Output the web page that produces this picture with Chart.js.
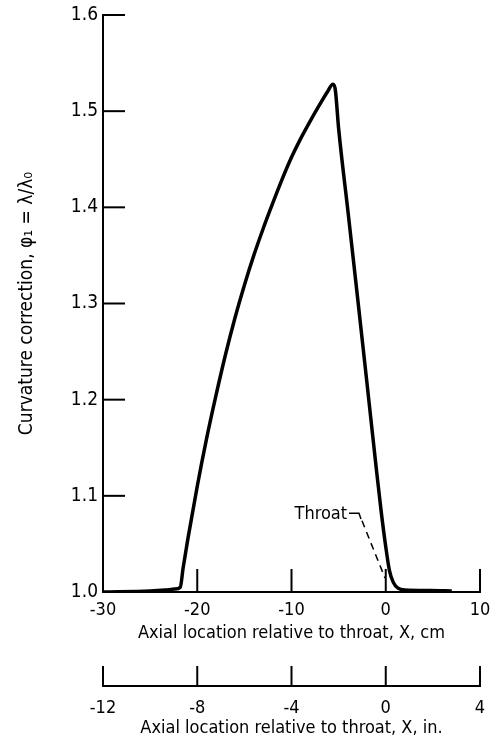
<!DOCTYPE html>
<html>
<head>
<meta charset="utf-8">
<script src="https://cdn.jsdelivr.net/npm/chart.js@4/dist/chart.umd.min.js"></script>
<style>
html, body { margin: 0; padding: 0; background: #fff; }
#wrap { width: 491px; height: 742px; }
</style>
</head>
<body>
<div id="wrap"><canvas id="grafico"></canvas></div>
<script>
// Dados
var posicaoCm = [-30, -25, -23.4, -22.4, -21.8, -21.5, -21.0, -20.0, -19.0, -18.0,
  -17.0, -16.0, -15.0, -14.0, -13.0, -12.0, -11.0, -10.0, -9.0, -8.0,
  -7.0, -6.2, -5.6, -5.35, -5.0, -4.0, -3.0, -2.0, -1.0, -0.5,
  0.0, 0.4, 0.8, 1.3, 2.0, 4.7, 7];
var correcao = [1.000, 1.001, 1.002, 1.003, 1.005, 1.025, 1.055, 1.110, 1.160, 1.205,
  1.247, 1.285, 1.319, 1.350, 1.378, 1.404, 1.429, 1.452, 1.472, 1.490,
  1.507, 1.520, 1.528, 1.522, 1.482, 1.395, 1.307, 1.218, 1.128, 1.085,
  1.047, 1.022, 1.010, 1.004, 1.002, 1.0015, 1.001];

var ticksY = [1.0, 1.1, 1.2, 1.3, 1.4, 1.5, 1.6];
var ticksCm = [-30, -20, -10, 0, 10];
var ticksPol = [-12, -8, -4, 0, 4];

var fonte = "'Liberation Sans Narrow', 'DejaVu Sans Condensed', sans-serif";

// marcas para dentro + nota "Throat"
var marcasInternas = {
  id: 'marcasInternas',
  afterDraw: function (chart) {
    var c = chart.ctx, area = chart.chartArea;
    var sx = chart.scales.x, sy = chart.scales.y, sp = chart.scales.xIn;
    c.save();
    c.strokeStyle = '#000';
    c.lineWidth = 2;
    ticksY.forEach(function (v) {
      var py = sy.getPixelForValue(v);
      c.beginPath(); c.moveTo(area.left, py); c.lineTo(area.left + 22, py); c.stroke();
    });
    ticksCm.forEach(function (v) {
      var px = sx.getPixelForValue(v);
      c.beginPath(); c.moveTo(px, sx.top); c.lineTo(px, sx.top - 23); c.stroke();
    });
    ticksPol.forEach(function (v) {
      var px = sp.getPixelForValue(v);
      c.beginPath(); c.moveTo(px, sp.top); c.lineTo(px, sp.top - 20); c.stroke();
    });

    // nota da garganta
    c.fillStyle = '#000';
    c.font = '18px ' + fonte;
    c.textAlign = 'right';
    c.textBaseline = 'middle';
    c.fillText('Throat', sx.getPixelForValue(-4.1), sy.getPixelForValue(1.081));
    c.lineWidth = 1.5;
    c.beginPath();
    c.moveTo(sx.getPixelForValue(-3.9), sy.getPixelForValue(1.082));
    c.lineTo(sx.getPixelForValue(-2.84), sy.getPixelForValue(1.082));
    c.lineTo(sx.getPixelForValue(-2.63), sy.getPixelForValue(1.076));
    c.stroke();
    c.setLineDash([7, 5]);
    c.beginPath();
    c.moveTo(sx.getPixelForValue(-2.52), sy.getPixelForValue(1.074));
    c.lineTo(sx.getPixelForValue(-0.08), sy.getPixelForValue(1.0146));
    c.stroke();
    c.restore();
  }
};

function semFolga(s) { s.paddingLeft = 0; s.paddingRight = 0; s.paddingTop = 0; s.paddingBottom = 0; }

var pontos = posicaoCm.map(function (x, i) { return { x: x, y: correcao[i] }; });

var ctx = document.getElementById('grafico').getContext('2d');
var grafico = new Chart(ctx, {
  type: 'line',
  data: {
    datasets: [{
      data: pontos,
      borderColor: '#000',
      borderWidth: 3.5,
      pointRadius: 0,
      fill: false,
      cubicInterpolationMode: 'monotone'
    }]
  },
  options: {
    responsive: true,
    maintainAspectRatio: false,
    animation: false,
    layout: { padding: { left: 0, right: 11, top: 15, bottom: 0 } },
    plugins: { legend: { display: false }, tooltip: { enabled: false } },
    scales: {
      x: {
        type: 'linear',
        position: 'bottom',
        min: -30, max: 10,
        afterBuildTicks: function (s) { s.ticks = ticksCm.map(function (v) { return { value: v }; }); },
        grid: { display: false, drawTicks: false },
        border: { display: true, color: '#000', width: 2 },
        ticks: { color: '#000', padding: 8, font: { family: fonte, size: 18 } },
        title: {
          display: true, text: 'Axial location relative to throat, X, cm', color: '#000',
          font: { family: fonte, size: 18 }, padding: { top: 4, bottom: 42 }
        },
        afterFit: function (s) { s.height = 94; semFolga(s); }
      },
      xIn: {
        type: 'linear',
        position: 'bottom',
        min: -12, max: 4,
        afterBuildTicks: function (s) { s.ticks = ticksPol.map(function (v) { return { value: v }; }); },
        grid: { display: false, drawTicks: false },
        border: { display: true, color: '#000', width: 2 },
        ticks: { color: '#000', padding: 12, font: { family: fonte, size: 18 } },
        title: {
          display: true, text: 'Axial location relative to throat, X, in.', color: '#000',
          font: { family: fonte, size: 18 }, padding: { top: 2, bottom: 3 }
        },
        afterFit: function (s) { s.height = 56; semFolga(s); }
      },
      y: {
        type: 'linear',
        min: 1.0, max: 1.6,
        afterBuildTicks: function (s) { s.ticks = ticksY.map(function (v) { return { value: v }; }); },
        grid: { display: false, drawTicks: false },
        border: { display: true, color: '#000', width: 2 },
        ticks: {
          color: '#000', padding: 5, font: { family: fonte, size: 19 },
          callback: function (v) { return v.toFixed(1); }
        },
        title: {
          display: true, text: 'Curvature correction, φ₁ = λ/λ₀', color: '#000',
          font: { family: fonte, size: 19 }, padding: { top: 16, bottom: 0 }
        },
        afterFit: function (s) { s.width = 103; semFolga(s); }
      }
    }
  },
  plugins: [marcasInternas]
});
</script>
</body>
</html>
